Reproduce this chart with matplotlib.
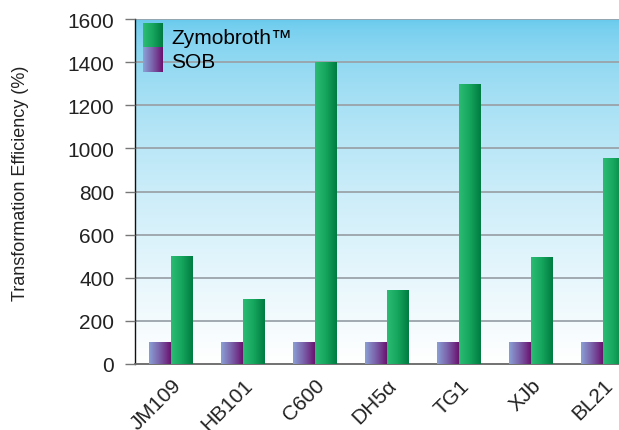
import numpy as np
import matplotlib
matplotlib.use("Agg")
import matplotlib.pyplot as plt
from matplotlib.colors import LinearSegmentedColormap
from matplotlib.legend_handler import HandlerBase
from matplotlib.patches import Rectangle
from matplotlib.transforms import ScaledTranslation

categories = ["JM109", "HB101", "C600", "DH5α", "TG1", "XJb", "BL21"]
zymobroth = [500, 300, 1400, 345, 1300, 495, 955]
sob = [100, 100, 100, 100, 100, 100, 100]
series_names = ["Zymobroth™", "SOB"]
yticks = [0, 200, 400, 600, 800, 1000, 1200, 1400, 1600]

plt.rcParams['font.family'] = ['Liberation Sans', 'DejaVu Sans']

green_cmap = LinearSegmentedColormap.from_list("g", ["#2dbb74", "#15a55c", "#007c42"])
purple_cmap = LinearSegmentedColormap.from_list("p", ["#8a9fd4", "#7a5fa8", "#6a1470"])

fig = plt.figure(figsize=(6.19, 4.31), dpi=100)
ax = fig.add_axes([135/619, 66/431, 504/619, 345/431])

# background gradient
t = np.linspace(0, 1, 256) ** 0.6  # 0 top -> 1 bottom
top = np.array([0.40, 0.79, 0.93])
grad = top[None, :] + t[:, None] * (1 - top[None, :])
ax.imshow(grad[:, None, :], extent=[0, 1, 0, 1], transform=ax.transAxes,
          aspect='auto', zorder=0, interpolation='bilinear')

x = np.arange(len(categories))
w = 0.3
hgrad = np.linspace(0, 1, 64)[None, :]

def grad_bars(xs, vals, cmap):
    bars = ax.bar(xs, vals, width=w, facecolor='none', edgecolor='none', zorder=3)
    for b in bars:
        x0, y0 = b.get_x(), b.get_y()
        im = ax.imshow(hgrad, cmap=cmap, extent=[x0, x0 + b.get_width(), y0, y0 + b.get_height()],
                       aspect='auto', zorder=3, interpolation='bilinear')
        im.set_clip_path(b)
    return bars

grad_bars(x - w/2, sob, purple_cmap)
grad_bars(x + w/2, zymobroth, green_cmap)

ax.set_xlim(-0.5, len(categories) - 0.5)
ax.set_ylim(0, 1600)
ax.set_yticks(yticks)
ax.set_yticklabels([str(v) for v in yticks], fontsize=15, color='#222222')
ax.set_xticks(x)
ax.set_xticklabels(categories, rotation=45, ha='right', va='center', rotation_mode='anchor',
                   fontsize=15, color='#222222')
ax.tick_params(axis='x', length=0, pad=13)
off = ScaledTranslation(7/100, 0, fig.dpi_scale_trans)
for lab in ax.get_xticklabels():
    lab.set_transform(lab.get_transform() + off)
ax.tick_params(axis='y', length=7, width=1, color='#777777', pad=8)
ax.set_ylabel("Transformation Efficiency (%)", fontsize=13, color='#222222')
ax.yaxis.set_label_coords((29 - 135) / 504, (365 - 183.5) / 345)

for v in yticks[1:]:
    ax.axhline(v, color='#9aa3a9', lw=1.3, zorder=2)

for s in ['top', 'right']:
    ax.spines[s].set_visible(False)
ax.spines['left'].set_color('#111111')
ax.spines['left'].set_linewidth(1.0)
ax.spines['bottom'].set_color('#666666')
ax.spines['bottom'].set_linewidth(1.3)
ax.set_axisbelow(False)

class GradHandler(HandlerBase):
    def __init__(self, cmap):
        super().__init__()
        self.cmap = cmap
    def create_artists(self, legend, orig_handle, xdescent, ydescent, width, height, fontsize, trans):
        n = 20
        arts = []
        side = 18
        x0 = -xdescent
        y0 = -ydescent + (height - side) / 2
        for i in range(n):
            r = Rectangle((x0 + width * i / n, y0), width / n * 1.05, side,
                          facecolor=self.cmap(i / (n - 1)), edgecolor='none', transform=trans)
            arts.append(r)
        return arts

h1, h2 = object(), object()
leg = ax.legend([h1, h2], series_names, loc='upper left',
                handler_map={h1: GradHandler(green_cmap), h2: GradHandler(purple_cmap)},
                frameon=False, fontsize=15, handlelength=0.96, handleheight=0.85,
                handletextpad=0.38, labelspacing=0.22, borderaxespad=0.0, borderpad=0.4)
leg.set_zorder(5)

fig.savefig("out.png", dpi=100)
